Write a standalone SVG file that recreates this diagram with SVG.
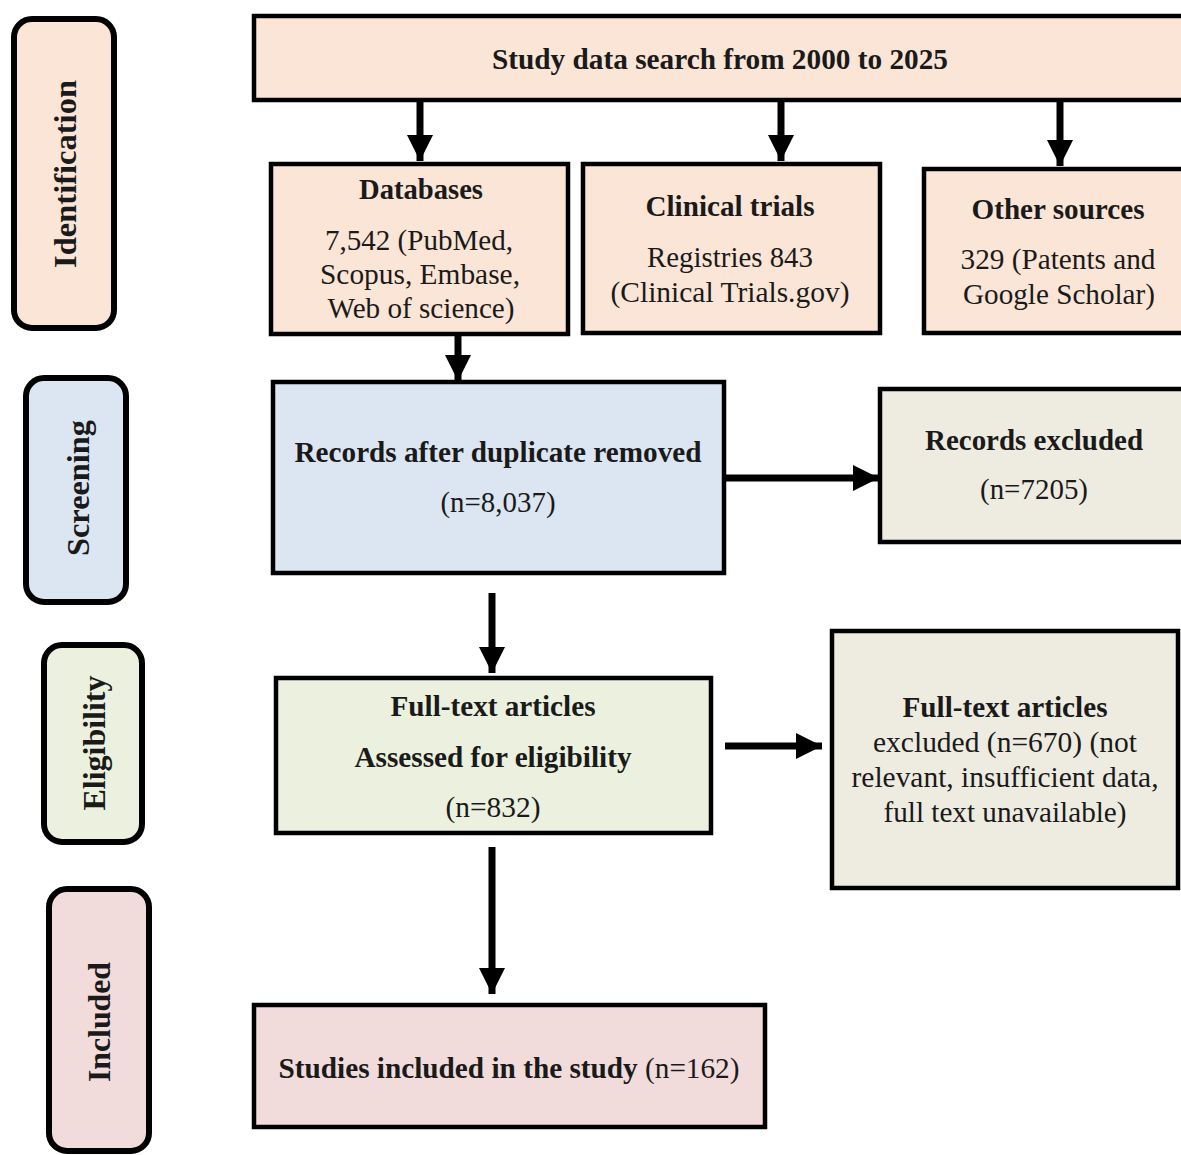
<svg xmlns="http://www.w3.org/2000/svg" width="1181" height="1155" viewBox="0 0 1181 1155">
<style>
.box{stroke:#000;stroke-width:4.5}
.side{stroke:#000;stroke-width:6}
text{font-family:'Liberation Serif','DejaVu Serif',serif;fill:#1a1a1a;text-anchor:middle}
.b{font-weight:bold;font-size:29px}
.r{font-size:29px}
.lab{font-weight:bold;font-size:32px}
.peach{fill:#fbe5d6}
.conn line{stroke:#000;stroke-width:7}
</style>
<defs>
<marker id="ah" viewBox="0 0 10 10" refX="10" refY="5" markerWidth="26" markerHeight="26" markerUnits="userSpaceOnUse" orient="auto">
<path d="M0,0 L10,5 L0,10 z" fill="#000"/>
</marker>
</defs>
<rect width="1181" height="1155" fill="#fff"/>

<g id="lab-identification"><rect class="side" x="14" y="19" width="100" height="309" rx="18" fill="#fbe5d6"/><text class="lab" transform="translate(76,174) rotate(-90)" textLength="188" lengthAdjust="spacingAndGlyphs">Identification</text></g>
<g id="lab-screening"><rect class="side" x="26" y="378" width="100" height="224" rx="18" fill="#dce6f2"/><text class="lab" transform="translate(89,488) rotate(-90)" textLength="136" lengthAdjust="spacingAndGlyphs">Screening</text></g>
<g id="lab-eligibility"><rect class="side" x="44" y="645" width="98" height="197" rx="18" fill="#ebf1de"/><text class="lab" transform="translate(105,743) rotate(-90)" textLength="135" lengthAdjust="spacingAndGlyphs">Eligibility</text></g>
<g id="lab-included"><rect class="side" x="49" y="889" width="100" height="262" rx="18" fill="#f2dcdb"/><text class="lab" transform="translate(110,1022) rotate(-90)" textLength="120" lengthAdjust="spacingAndGlyphs">Included</text></g>

<g id="search"><rect class="box peach" x="254" y="16" width="940" height="84"/><text class="b" x="720" y="69" textLength="456" lengthAdjust="spacingAndGlyphs">Study data search from 2000 to 2025</text></g>
<g id="databases"><rect class="box peach" x="271" y="164" width="297" height="170"/>
<text class="b" x="421" y="199" textLength="124" lengthAdjust="spacingAndGlyphs">Databases</text>
<text class="r" x="419" y="250" textLength="188" lengthAdjust="spacingAndGlyphs">7,542 (PubMed,</text>
<text class="r" x="420" y="284" textLength="200" lengthAdjust="spacingAndGlyphs">Scopus, Embase,</text>
<text class="r" x="421" y="318" textLength="187" lengthAdjust="spacingAndGlyphs">Web of science)</text></g>
<g id="clinical"><rect class="box peach" x="583" y="164" width="297" height="169"/>
<text class="b" x="730" y="216" textLength="169" lengthAdjust="spacingAndGlyphs">Clinical trials</text>
<text class="r" x="730" y="267" textLength="166" lengthAdjust="spacingAndGlyphs">Registries 843</text>
<text class="r" x="730" y="302" textLength="239" lengthAdjust="spacingAndGlyphs">(Clinical Trials.gov)</text></g>
<g id="other"><rect class="box peach" x="924" y="169" width="270" height="164"/>
<text class="b" x="1058" y="219" textLength="173" lengthAdjust="spacingAndGlyphs">Other sources</text>
<text class="r" x="1058" y="269" textLength="195" lengthAdjust="spacingAndGlyphs">329 (Patents and</text>
<text class="r" x="1059" y="304" textLength="192" lengthAdjust="spacingAndGlyphs">Google Scholar)</text></g>

<g id="records"><rect class="box" x="273" y="382" width="451" height="191" fill="#dce6f2"/>
<text class="b" x="498" y="462" textLength="407" lengthAdjust="spacingAndGlyphs">Records after duplicate removed</text>
<text class="r" x="498" y="512" textLength="115" lengthAdjust="spacingAndGlyphs">(n=8,037)</text></g>
<g id="excluded"><rect class="box" x="880" y="389" width="310" height="153" fill="#eeece1"/>
<text class="b" x="1034" y="450" textLength="218" lengthAdjust="spacingAndGlyphs">Records excluded</text>
<text class="r" x="1034" y="499" textLength="108" lengthAdjust="spacingAndGlyphs">(n=7205)</text></g>

<g id="fulltext"><rect class="box" x="276" y="678" width="435" height="155" fill="#ebf1de"/>
<text class="b" x="493" y="716" textLength="205" lengthAdjust="spacingAndGlyphs">Full-text articles</text>
<text class="b" x="493" y="767" textLength="277" lengthAdjust="spacingAndGlyphs">Assessed for eligibility</text>
<text class="r" x="493" y="817" textLength="95" lengthAdjust="spacingAndGlyphs">(n=832)</text></g>
<g id="ftexcluded"><rect class="box" x="832" y="631" width="346" height="257" fill="#eeece1"/>
<text class="b" x="1005" y="717" textLength="205" lengthAdjust="spacingAndGlyphs">Full-text articles</text>
<text class="r" x="1005" y="752" textLength="264" lengthAdjust="spacingAndGlyphs">excluded (n=670) (not</text>
<text class="r" x="1005" y="787" textLength="307" lengthAdjust="spacingAndGlyphs">relevant, insufficient data,</text>
<text class="r" x="1005" y="822" textLength="243" lengthAdjust="spacingAndGlyphs">full text unavailable)</text></g>

<g id="included"><rect class="box" x="254" y="1005" width="511" height="122" fill="#f2dcdb"/>
<text x="509" y="1078" class="r" textLength="461" lengthAdjust="spacingAndGlyphs"><tspan font-weight="bold">Studies included in the study</tspan> (n=162)</text></g>

<g id="connectors" class="conn">
<line x1="420" y1="100" x2="420" y2="161" marker-end="url(#ah)"/>
<line x1="781" y1="100" x2="781" y2="161" marker-end="url(#ah)"/>
<line x1="1060" y1="100" x2="1060" y2="166" marker-end="url(#ah)"/>
<line x1="458" y1="334" x2="458" y2="381" marker-end="url(#ah)"/>
<line x1="724" y1="478" x2="879" y2="478" marker-end="url(#ah)"/>
<line x1="492" y1="593" x2="492" y2="673" marker-end="url(#ah)"/>
<line x1="725" y1="746" x2="822" y2="746" marker-end="url(#ah)"/>
<line x1="492" y1="847" x2="492" y2="994" marker-end="url(#ah)"/>
</g>
</svg>
